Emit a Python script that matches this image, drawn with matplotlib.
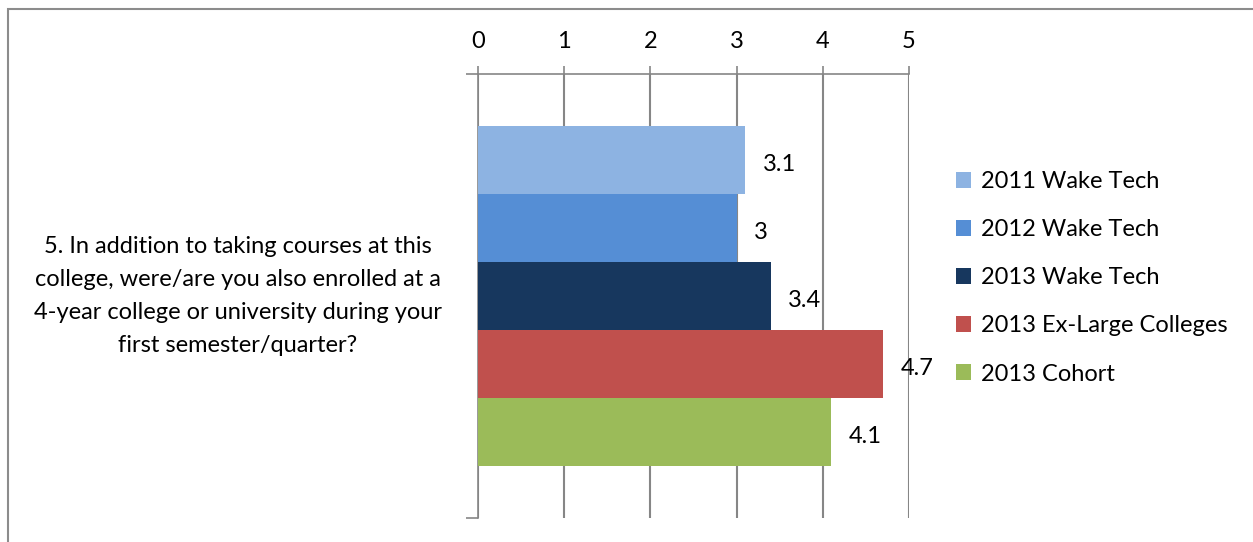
import matplotlib.pyplot as plt
from matplotlib.patches import Rectangle

question = ("5. In addition to taking courses at this\n"
            "college, were/are you also enrolled at a\n"
            "4-year college or university during your\n"
            "first semester/quarter?")
series = ["2011 Wake Tech", "2012 Wake Tech", "2013 Wake Tech",
          "2013 Ex-Large Colleges", "2013 Cohort"]
values = [3.1, 3.0, 3.4, 4.7, 4.1]
colors = ["#8DB3E2", "#558ED5", "#17375E", "#C0504D", "#9BBB59"]
xticks = [0, 1, 2, 3, 4, 5]

W, H = 1253, 542
FS = 17
plt.rcParams["font.family"] = ["Lato", "DejaVu Sans"]
fig = plt.figure(figsize=(W / 100, H / 100), dpi=100)

# outer border (only top/left visible in the original)
fig.patches.append(Rectangle((7.5 / W, -0.1), 1.2, 1 - 8.5 / H + 0.1, transform=fig.transFigure,
                             fill=False, edgecolor="#8C8C8C", linewidth=1.5))

ax = fig.add_axes([478 / W, 1 - 518 / H, (909 - 478) / W, (518 - 74) / H])
bar_h = 68 / 444
for i, (name, v, c) in enumerate(zip(series, values, colors)):
    y = (i - 2) * bar_h
    ax.barh(y, v, height=bar_h, color=c, label=name, zorder=3)
    ax.text(v + 0.2, y + 0.01, f"{v:g}", va="center", ha="left", fontsize=FS, zorder=4)

ax.set_xlim(0, 5)
ax.set_ylim(0.5, -0.5)
ax.set_xticks(xticks)
ax.xaxis.tick_top()
ax.tick_params(axis="x", direction="out", length=6, width=1.2, color="#868686",
               labelsize=FS, pad=10)
ax.set_yticks([-0.5, 0.5])
ax.set_yticklabels([])
ax.tick_params(axis="y", direction="out", length=9, width=1.2, color="#868686")
ax.grid(axis="x", color="#868686", linewidth=1.5, zorder=1)
for s in ["right", "bottom"]:
    ax.spines[s].set_visible(False)
for s in ["top", "left"]:
    ax.spines[s].set_color("#868686")
    ax.spines[s].set_linewidth(1.2)

fig.text(238 / W, 1 - 296 / H, question, ha="center", va="center",
         multialignment="center", fontsize=FS, linespacing=1.72)

fig.legend(loc="upper left", bbox_to_anchor=(956 / W, 1 - 171 / H), frameon=False,
           fontsize=FS, handlelength=0.65, handleheight=0.65, handletextpad=0.4,
           labelspacing=1.15, borderpad=0, borderaxespad=0)

fig.savefig("out.png", dpi=100)
